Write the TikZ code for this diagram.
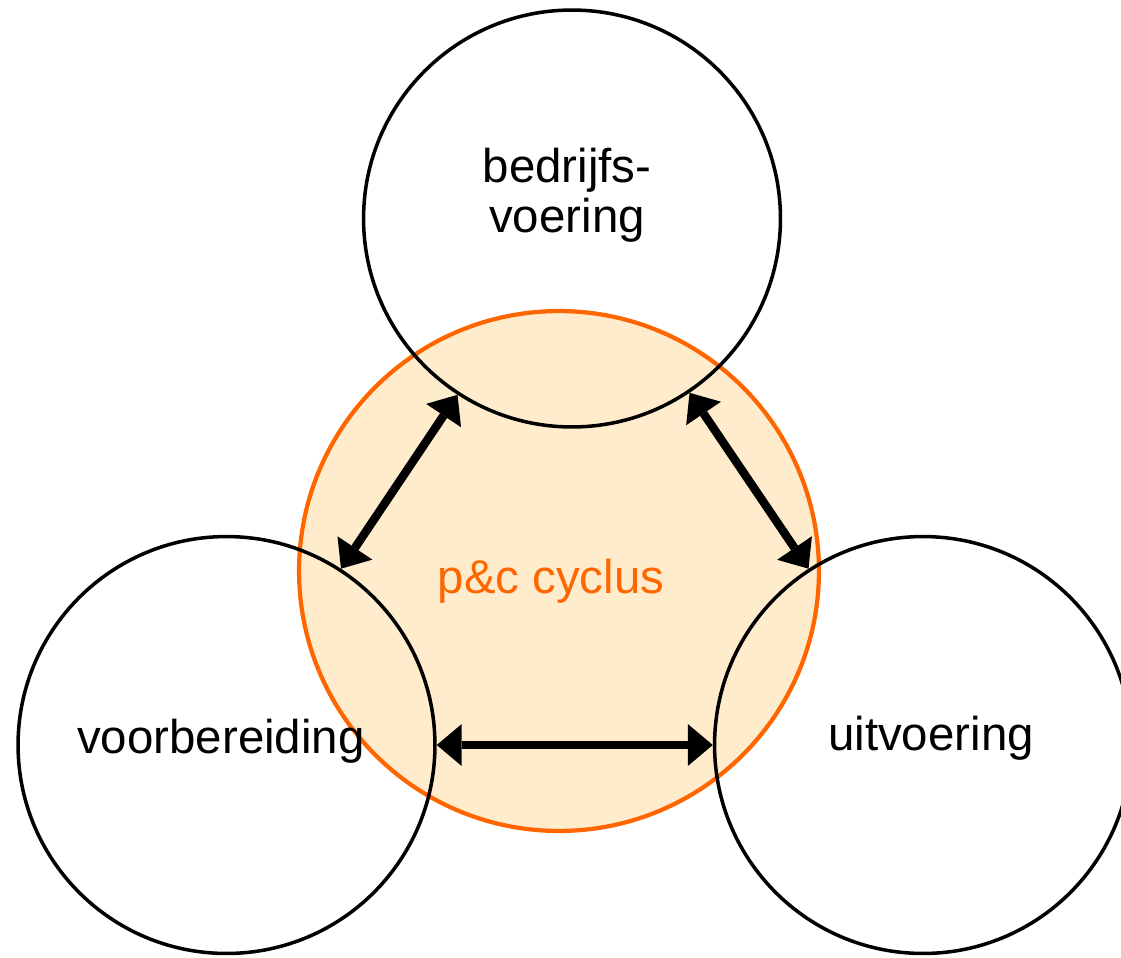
\documentclass[tikz,border=0pt]{standalone}
\usepackage{fontspec}
\setmainfont{Liberation Sans}
\usetikzlibrary{arrows.meta}
\definecolor{pcorange}{RGB}{255,102,0}
\definecolor{pcfill}{RGB}{254,236,204}

\begin{document}
\begin{tikzpicture}[x=0.02cm,y=-0.02cm,>={Triangle[length=0.5cm,width=0.84cm,line width=0pt]},
                    phase node/.style={circle,draw,line width=2pt,minimum size=8.34cm,inner sep=0pt},
                    cycle node/.style={circle,draw=pcorange,fill=pcfill,line width=2.4pt,minimum size=10.4cm,inner sep=0pt},
                    phase text/.style={font=\fontsize{27}{28.4}\selectfont,inner sep=0pt}]
  \useasboundingbox (0,0) rectangle (1121,957);
  \node[cycle node] (pc) at (559,571) {};
  \node[phase node] (bv) at (572,218.5) {};
  \node[phase node] (vb) at (226.5,745) {};
  \node[phase node] (uv) at (923,745) {};
  \node[phase text,align=center] (bvt) at (567,195) {bedrijfs-\\voering};
  \node[phase text,anchor=base,text=pcorange] (pct) at (551,593) {p\&c cyclus};
  \node[phase text,anchor=base] (vbt) at (221,753) {voorbereiding};
  \node[phase text,anchor=base] (uvt) at (931,750) {uitvoering};
  \path[<->,line width=4.8pt]
    (bv.237) edge (vb.57)
    (bv.304) edge (uv.123)
    (vb.0) edge (uv.180);
\end{tikzpicture}
\end{document}
